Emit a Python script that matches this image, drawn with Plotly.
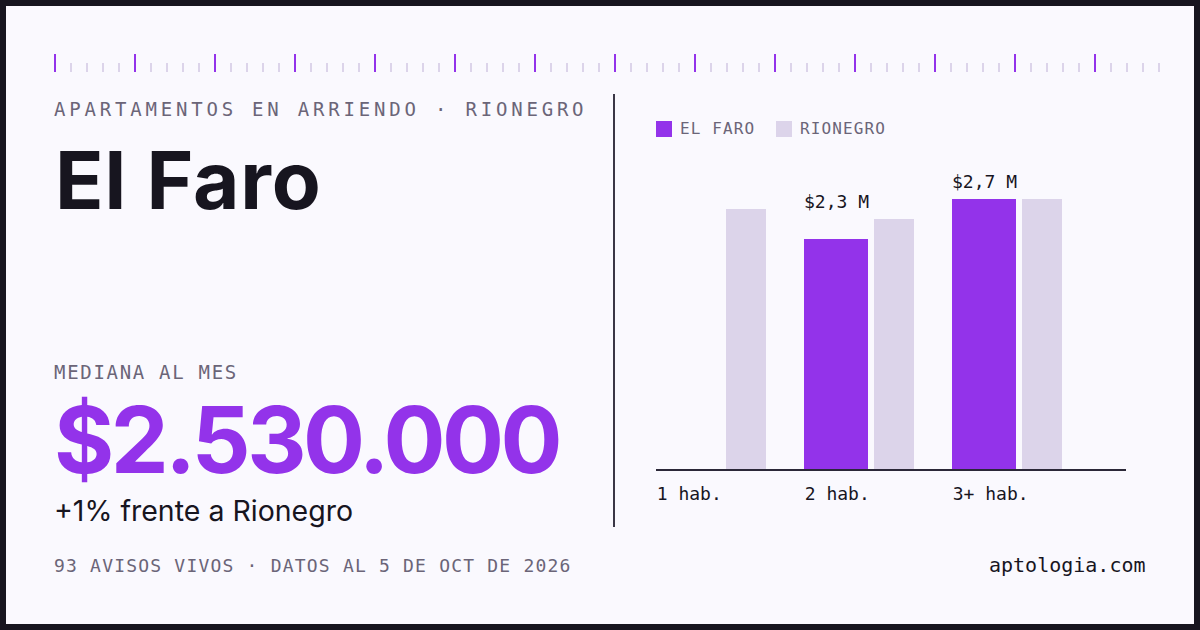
import json
import plotly.graph_objects as go

# ---------------- data ----------------
categories = ["1 hab.", "2 hab.", "3+ hab."]
el_faro = [None, 2.3, 2.7]          # millones COP
rionegro = [2.6, 2.5, 2.7]          # millones COP
series_names = ["EL FARO", "RIONEGRO"]

kicker = "APARTAMENTOS EN ARRIENDO · RIONEGRO"
title = "El Faro"
median_label = "MEDIANA AL MES"
median_value = "$2.530.000"
delta_text = "+1% frente a Rionegro"
footer_left = "93 AVISOS VIVOS · DATOS AL 5 DE OCT DE 2026"
footer_right = "aptologia.com"

# ---------------- style ----------------
W, H = 1200, 630
BG = "#faf9fe"
FRAME = "#17151f"
DARK = "#17151f"
GRAY = "#6b6578"
PURPLE = "#9333ea"
LAV = "#dcd4ea"
MONO = "DejaVu Sans Mono"
SANS = "Inter"


def px(x):
    return x / W


def py(y):
    return 1 - y / H


GROUP = 148.0
x_pos = list(range(len(categories)))

fig = go.Figure()
fig.add_trace(go.Bar(
    x=x_pos, y=el_faro, name=series_names[0],
    offset=0, width=64 / GROUP, marker=dict(color=PURPLE, line=dict(width=0)),
    hoverinfo="skip",
))
fig.add_trace(go.Bar(
    x=x_pos, y=rionegro, name=series_names[1],
    offset=70 / GROUP, width=40 / GROUP, marker=dict(color=LAV, line=dict(width=0)),
    hoverinfo="skip",
))

shapes = []
# frame + background
shapes.append(dict(type="rect", xref="paper", yref="paper", x0=px(6), x1=px(W - 6),
                   y0=py(H - 6), y1=py(6), fillcolor=BG, line=dict(width=0), layer="below"))
# ruler
for k in range(70):
    cx = 55 + 16 * k
    major = k % 5 == 0
    shapes.append(dict(type="line", xref="paper", yref="paper",
                       x0=px(cx), x1=px(cx), y0=py(54 if major else 63), y1=py(72),
                       line=dict(color=PURPLE if major else LAV, width=2), layer="below"))
# divider
shapes.append(dict(type="line", xref="paper", yref="paper", x0=px(614), x1=px(614),
                   y0=py(94), y1=py(527), line=dict(color="#3a3746", width=2)))
# legend squares
for lx, col in [(656, PURPLE), (776, LAV)]:
    shapes.append(dict(type="rect", xref="paper", yref="paper", x0=px(lx), x1=px(lx + 16),
                       y0=py(137), y1=py(121), fillcolor=col, line=dict(width=0)))

ann = []
spacing = {}


def txt(text, x, y, size, color, family, xanchor="left", weight=None, ls=None):
    f = dict(size=size, color=color, family=family)
    if weight:
        f["weight"] = weight
    ann.append(dict(text=text, x=px(x), y=py(y), xref="paper", yref="paper",
                    xanchor=xanchor, yanchor="middle", align=xanchor if xanchor != "center" else "center",
                    showarrow=False, font=f, borderpad=0))
    if ls is not None:
        spacing[text] = ls


txt(kicker, 53, 109, 19, GRAY, MONO, ls=3.8)
txt(title, 54, 179, 80, DARK, SANS, weight=700, ls=0.8)
txt(median_label, 53, 372, 19, GRAY, MONO, ls=1.7)
txt(median_value, 53, 439, 92, PURPLE, SANS, weight=700, ls=-3.5)
txt(delta_text, 53, 510, 28.5, DARK, SANS)
txt(footer_left, 53, 565, 18, GRAY, MONO, ls=1.2)
txt(footer_right, 1147, 565, 20, DARK, MONO, xanchor="right")
txt(series_names[0], 679, 129, 16, GRAY, MONO, ls=1.1)
txt(series_names[1], 799, 129, 16, GRAY, MONO, ls=1.1)

# value labels above El Faro bars (placed over the taller bar of each group)
for i, v in enumerate(el_faro):
    if v is None:
        continue
    top = max(v, rionegro[i] or 0)
    ann.append(dict(text="$" + f"{v:.1f}".replace(".", ",") + " M",
                    x=i + 32 / GROUP, y=top, xref="x", yref="y",
                    xanchor="center", yanchor="middle", yshift=17,
                    showarrow=False, font=dict(size=18, color=DARK, family=MONO)))

fig.update_layout(
    width=W, height=H, autosize=False,
    margin=dict(l=0, r=0, t=0, b=0),
    paper_bgcolor=FRAME, plot_bgcolor="rgba(0,0,0,0)",
    barmode="overlay", showlegend=False,
    shapes=shapes, annotations=ann,
    xaxis=dict(domain=[px(656), px(1126)], range=[0, 470 / GROUP],
               showgrid=False, zeroline=False, showline=True, linecolor="#2b2838", linewidth=1.5,
               tickvals=x_pos, ticktext=categories, ticks="",
               ticklabelposition="outside right", ticklabelstandoff=8,
               tickfont=dict(family=MONO, size=18, color=DARK), fixedrange=True),
    yaxis=dict(domain=[py(469), py(169)], range=[0, 3.0], visible=False, fixedrange=True),
)

post = """
var sp = %s;
var gd = document.getElementById('{plot_id}');
gd.querySelectorAll('text').forEach(function(t){
  var s = sp[t.textContent];
  if (s !== undefined) { t.style.letterSpacing = s + 'px'; }
});
""" % json.dumps(spacing)

fig.write_html("out.html", config={"displayModeBar": False, "staticPlot": True}, post_script=post)
